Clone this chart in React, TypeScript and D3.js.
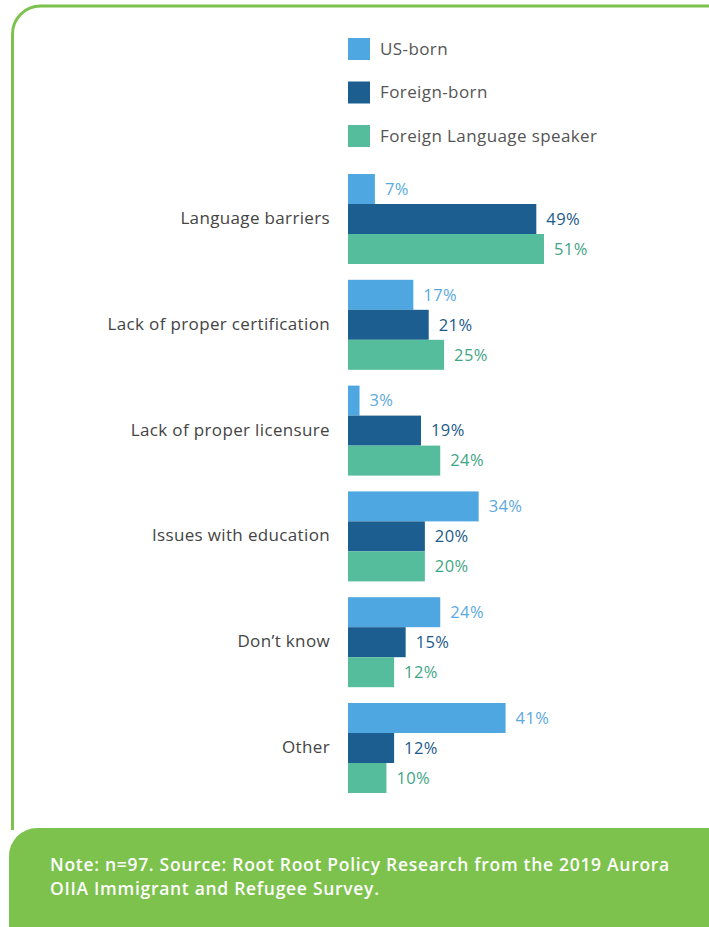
import React from "react";
import * as d3 from "d3";

const categories = [
  "Language barriers",
  "Lack of proper certification",
  "Lack of proper licensure",
  "Issues with education",
  "Don\u2019t know",
  "Other",
];
const seriesNames = ["US-born", "Foreign-born", "Foreign Language speaker"];
const usBorn = [7, 17, 3, 34, 24, 41];
const foreignBorn = [49, 21, 19, 20, 15, 12];
const foreignLang = [51, 25, 24, 20, 12, 10];
const seriesColors = ["#4fa7e2", "#1b5e8f", "#55bd9c"];
const labelColors = ["#5aa9e0", "#1b5a8a", "#3fa585"];
const noteLines = [
  "Note: n=97. Source: Root Root Policy Research from the 2019 Aurora",
  "OIIA Immigrant and Refugee Survey.",
];

const W = 709;
const H = 927;
const GREEN = "#7cc24c";

export default function App() {
  const values = [usBorn, foreignBorn, foreignLang];
  const x = d3.scaleLinear().domain([0, 51]).range([348, 544]);
  const y0 = d3
    .scaleBand<string>()
    .domain(categories)
    .range([174, 793])
    .paddingInner(15.8 / 105.8)
    .paddingOuter(0);
  const y1 = d3
    .scaleBand<string>()
    .domain(seriesNames)
    .range([0, y0.bandwidth()])
    .padding(0);

  const font = "'Open Sans', sans-serif";

  return (
    <svg
      width={W}
      height={H}
      style={{ position: "absolute", left: 0, top: 0, display: "block" }}
    >
      <rect width={W} height={H} fill="#fff" />
      <path
        d={`M12.5,830 L12.5,34 A28,28 0 0 1 40.5,6 L${W + 5},6`}
        fill="none"
        stroke={GREEN}
        strokeWidth={3}
      />
      <path
        d={`M9,${H + 5} L9,856 A28,28 0 0 1 37,828 L${W + 5},828 L${W + 5},${H + 5} Z`}
        fill={GREEN}
      />
      {noteLines.map((t, i) => (
        <text
          key={i}
          x={50}
          y={871 + i * 24}
          fill="#fff"
          fontFamily={font}
          fontWeight={600}
          fontSize={17.5}
          letterSpacing={0.7}
        >
          {t}
        </text>
      ))}

      {seriesNames.map((s, i) => (
        <g key={s} transform={`translate(348,${38 + i * 43.5})`}>
          <rect width={22} height={22} fill={seriesColors[i]} />
          <text
            x={32}
            y={11}
            dy="0.35em"
            fill="#555"
            fontFamily={font}
            fontSize={17}
            letterSpacing={0.4}
          >
            {s}
          </text>
        </g>
      ))}

      {categories.map((c, ci) => {
        const gy = y0(c)!;
        return (
          <g key={c}>
            <text
              x={330}
              y={gy + y0.bandwidth() / 2 - 1}
              dy="0.35em"
              textAnchor="end"
              fill="#444"
              fontFamily={font}
              fontSize={17}
              letterSpacing={0.35}
            >
              {c}
            </text>
            {seriesNames.map((s, si) => {
              const v = values[si][ci];
              const by = gy + y1(s)!;
              return (
                <g key={s}>
                  <rect
                    x={x(0)}
                    y={by}
                    width={x(v) - x(0)}
                    height={y1.bandwidth()}
                    fill={seriesColors[si]}
                  />
                  <text
                    x={x(v) + 10}
                    y={by + y1.bandwidth() / 2}
                    dy="0.35em"
                    fill={labelColors[si]}
                    fontFamily={font}
                    fontSize={16.5}
                    letterSpacing={0.4}
                  >
                    {v}%
                  </text>
                </g>
              );
            })}
          </g>
        );
      })}
    </svg>
  );
}
